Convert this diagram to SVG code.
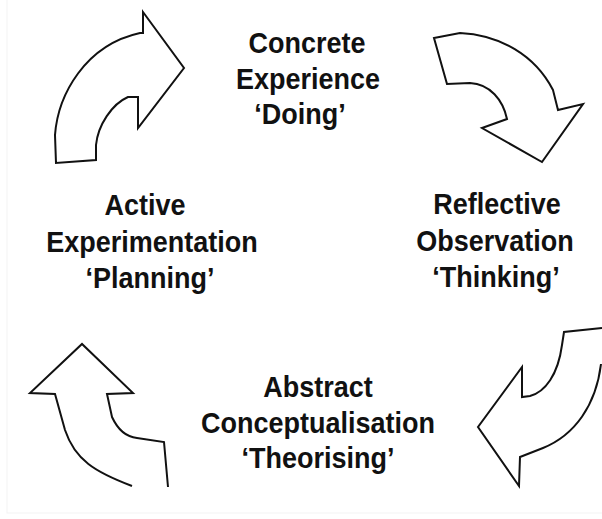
<svg xmlns="http://www.w3.org/2000/svg" width="602" height="519" viewBox="0 0 602 519">
<style>
.arrow{fill:#fff;stroke:#111;stroke-width:2;stroke-linejoin:miter}
.lbl{font-family:"Liberation Sans",Arial,sans-serif;font-weight:bold;font-size:27px;fill:#111;text-anchor:middle}
</style>
<rect x="0" y="0" width="602" height="519" fill="#fff"/>
<rect x="7" y="-2" width="600" height="515" fill="none" stroke="#f3f3f3" stroke-width="1"/>
<g id="connectors">
<path id="arrow-top-left" class="arrow" d="M143,12 L184,68 L138,128 L138,97 L128,97 C112,104 98,125 96,145 L96,160 L56,163 L55,135 C58,95 85,45 140,33 L143,33 Z"/>
<path id="arrow-top-right" class="arrow" d="M434,38 L460,33 C500,35 535,55 553,90 L558,110 L583,104 L542,162 L482,128 L507,119 C503,100 490,84 470,83 L447,84 Z"/>
<path id="arrow-bottom-right" class="arrow" d="M602,328 L564,332 L562,345 C558,375 545,392 530,396 L522,397 L522,367 L478,427 L519,486 L520,457 L543,448 C575,435 596,405 601,364"/>
<path id="arrow-bottom-left" class="arrow" d="M132,486 C95,472 75,460 65,430 L55,394 L30,393 L82,344 L133,393 L107,394 L112,417 C118,430 127,437 137,438 L164,442 L168,487"/>
</g>
<g id="node-concrete" transform="scale(1 1.1)">
<text class="lbl" x="307" y="48.2">Concrete</text>
<text class="lbl" x="308" y="80.9">Experience</text>
<text class="lbl" x="300" y="112.7">‘Doing’</text>
</g>
<g id="node-reflective" transform="scale(1 1.1)">
<text class="lbl" x="497" y="194.5">Reflective</text>
<text class="lbl" x="495" y="228.2">Observation</text>
<text class="lbl" x="496" y="260.9">‘Thinking’</text>
</g>
<g id="node-abstract" transform="scale(1 1.1)">
<text class="lbl" x="318" y="360.9">Abstract</text>
<text class="lbl" x="318" y="393.6">Conceptualisation</text>
<text class="lbl" x="318" y="425.5">‘Theorising’</text>
</g>
<g id="node-active" transform="scale(1 1.1)">
<text class="lbl" x="145" y="195.5">Active</text>
<text class="lbl" x="152" y="229.1">Experimentation</text>
<text class="lbl" x="150" y="261.8">‘Planning’</text>
</g>
</svg>
